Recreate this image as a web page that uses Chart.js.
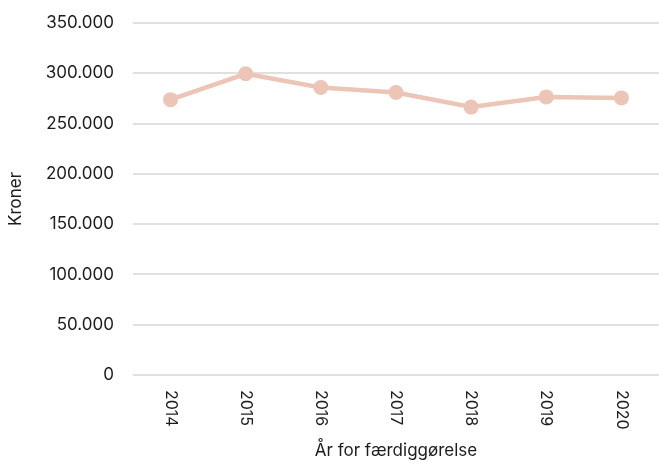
<!DOCTYPE html>
<html>
<head>
<meta charset="utf-8">
<script src="https://cdn.jsdelivr.net/npm/chart.js@4/dist/chart.umd.min.js"></script>
<style>
  html, body { margin: 0; padding: 0; background: #ffffff; }
  #wrap { width: 659px; height: 465px; position: relative; }
</style>
</head>
<body>
<div id="wrap"><canvas id="c"></canvas></div>
<script>
const years = ['2014', '2015', '2016', '2017', '2018', '2019', '2020'];
const kroner = [273800, 299500, 285900, 280900, 266400, 276500, 275500];
const yTicks = [0, 50000, 100000, 150000, 200000, 250000, 300000, 350000];
const yTitle = 'Kroner';
const xTitle = 'År for færdiggørelse';

const FONT = 'Inter, "DejaVu Sans", sans-serif';
const TEXT = '#1c1c1c';
const LINE = '#ecc5b7';

function fmt(v) {
  return String(v).replace(/\B(?=(\d{3})+(?!\d))/g, '.');
}

const rotatedXLabels = {
  id: 'rotatedXLabels',
  afterDraw(chart) {
    const scale = chart.scales.x;
    const ctx = chart.ctx;
    ctx.save();
    ctx.font = '16px ' + FONT;
    ctx.fillStyle = TEXT;
    ctx.textAlign = 'left';
    ctx.textBaseline = 'middle';
    scale.ticks.forEach((t, i) => {
      const x = scale.getPixelForTick(i);
      const y = scale.top + 15;
      ctx.save();
      ctx.translate(x, y);
      ctx.rotate(Math.PI / 2);
      ctx.fillText(scale.getLabelForValue(t.value), 0, 0);
      ctx.restore();
    });
    ctx.restore();
  }
};

new Chart(document.getElementById('c'), {
  type: 'line',
  data: {
    labels: years,
    datasets: [{
      data: kroner,
      borderColor: LINE,
      backgroundColor: LINE,
      borderWidth: 4.5,
      pointRadius: 7.5,
      pointBorderWidth: 0,
      pointBackgroundColor: LINE,
      tension: 0,
      fill: false,
      clip: false
    }]
  },
  options: {
    responsive: true,
    maintainAspectRatio: false,
    animation: false,
    events: [],
    layout: { autoPadding: false, padding: { top: 23, right: 0, bottom: 0, left: 0 } },
    plugins: {
      legend: { display: false },
      tooltip: { enabled: false }
    },
    scales: {
      x: {
        type: 'category',
        offset: true,
        grid: { display: false, drawTicks: false },
        border: { display: false },
        ticks: { display: false },
        title: {
          display: true,
          text: xTitle,
          color: TEXT,
          font: { family: FONT, size: 17 },
          padding: { top: 0, bottom: 4 }
        },
        afterFit(scale) { scale.height = 90; }
      },
      y: {
        min: 0,
        max: 350000,
        afterBuildTicks(scale) { scale.ticks = yTicks.map(v => ({ value: v })); },
        grid: { color: '#e0e0e0', lineWidth: 2, drawTicks: true, tickLength: 16, tickColor: 'rgba(0,0,0,0)' },
        border: { display: false },
        ticks: {
          color: TEXT,
          font: { family: FONT, size: 17 },
          padding: 3,
          callback: (v) => fmt(v)
        },
        title: {
          display: true,
          text: yTitle,
          color: TEXT,
          font: { family: FONT, size: 17 },
          padding: { top: 6, bottom: 0 }
        },
        afterFit(scale) { scale.width = 133; }
      }
    }
  },
  plugins: [rotatedXLabels]
});
</script>
</body>
</html>
